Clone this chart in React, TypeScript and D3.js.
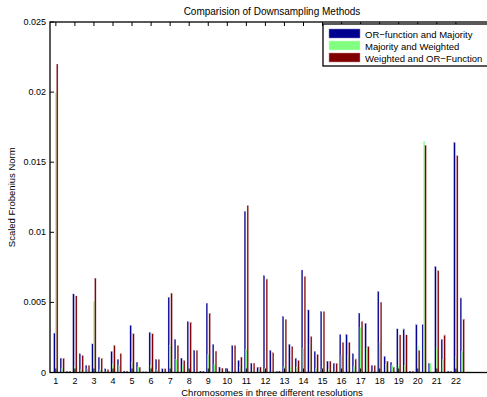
import * as d3 from "d3";

// three groups (resolutions) per chromosome, 66 groups in total
const chromosomes = d3.range(1, 23).map(String);

const orMajority = [
  0.0028, 0.00102, 0.0001, 0.0056, 0.00133, 0.0005, 0.00204, 0.00109, 0.00026,
  0.0015, 0.00093, 0.0001, 0.00335, 0.00073, 0.00005, 0.00287, 0.00093, 0.00026,
  0.00537, 0.00235, 0.00102, 0.00363, 0.00157, 0.0001, 0.00494, 0.002, 0.00038,
  0.0003, 0.00192, 0.00085, 0.01149, 0.00066, 0.00038, 0.0069, 0.00157, 0.0001,
  0.00399, 0.002, 0.00102, 0.00731, 0.00446, 0.0015, 0.00434, 0.0008, 0.00066,
  0.0027, 0.0027, 0.00133, 0.00423, 0.00351, 0.0005, 0.00577, 0.00114, 0.00073,
  0.00311, 0.00311, 0.0001, 0.0034, 0.0034, 0.00066, 0.00755, 0.00235, 0.0001,
  0.0164, 0.00532, 0,
];

const majorityWeighted = [
  0.02, 0.0003, 0.00005, 0.0004, 0.0002, 0.0003, 0.00506, 0.0002, 0.0001,
  0.0006, 0.0005, 0, 0.00073, 0.0004, 0, 0.0005, 0.0002, 0.0001,
  0.00192, 0.00093, 0.0005, 0.0001, 0, 0, 0.00126, 0.0006, 0.0001,
  0.00005, 0.0001, 0.0004, 0.00164, 0.0001, 0.0001, 0.0003, 0.0002, 0,
  0.0004, 0.0004, 0.0004, 0.00173, 0.002, 0.0003, 0.0002, 0.0002, 0.0001,
  0.00121, 0.00121, 0.00043, 0.00323, 0.00173, 0.0001, 0.00216, 0.0006, 0.0005,
  0.0005, 0.0005, 0, 0.00192, 0.0165, 0.00066, 0.00169, 0.00093, 0,
  0.00114, 0.0015, 0.0001,
];

const weightedOr = [
  0.022, 0.00102, 0.0001, 0.00546, 0.0012, 0.0005, 0.00672, 0.00102, 0.0002,
  0.00192, 0.00133, 0.0001, 0.00276, 0.00038, 0.00005, 0.00276, 0.00093, 0.00026,
  0.00565, 0.00192, 0.00085, 0.0036, 0.00157, 0.0001, 0.00423, 0.00152, 0.0003,
  0.0001, 0.00192, 0.00109, 0.0119, 0.00066, 0.00038, 0.00667, 0.0014, 0.0001,
  0.00378, 0.00185, 0.00085, 0.00684, 0.00256, 0.00128, 0.00434, 0.0008, 0.00066,
  0.00214, 0.00214, 0.00097, 0.00363, 0.00185, 0.0005, 0.00501, 0.0008, 0.00038,
  0.00268, 0.00268, 0.0001, 0.00157, 0.0162, 0, 0.00726, 0.00268, 0.0001,
  0.01546, 0.00382, 0,
];

const yTicks = [0, 0.005, 0.01, 0.015, 0.02, 0.025];

const series = [
  { name: "OR\u2212function and Majority", values: orMajority, color: "#00008f", edge: "#8080c8" },
  { name: "Majority and Weighted", values: majorityWeighted, color: "#80ff80", edge: "#c0ffc0" },
  { name: "Weighted and OR\u2212Function", values: weightedOr, color: "#800000", edge: "#c89090" },
];

const W = 487;
const H = 397;
const left = 50;
const right = 494; // axes box runs past the crop on the right
const top = 22;
const bottom = 372.5;
const font = "'Liberation Sans', Arial, Helvetica, sans-serif";

export default function App() {
  const x = d3.scaleLinear().domain([0, 70]).range([left - 0.5, right]);
  const y = d3.scaleLinear().domain([0, 0.025]).range([bottom, top]);

  // matlab grouped bar geometry
  const n = series.length;
  const groupWidth = Math.min(0.8, n / (n + 1.5));
  const barW = (groupWidth / n) * (x(1) - x(0));
  const offset = (i: number) => -groupWidth / 2 + ((2 * i + 1) * groupWidth) / (2 * n);

  const tickGroups = chromosomes.map((_, i) => i * 3 + 1);
  const midX = (left + right) / 2;

  return (
    <svg
      width={W}
      height={H}
      style={{ position: "absolute", left: 0, top: 0, background: "#fff" }}
      fontFamily={font}
    >
      <text x={midX} y={15} fontSize={10} textAnchor="middle">
        Comparision of Downsampling Methods
      </text>

      {/* bars */}
      {series.map((s, si) => (
        <g key={s.name}>
          {s.values.map((v, gi) => {
            const cx = x(gi + 1 + offset(si));
            const yt = y(v);
            return (
              <rect
                key={gi}
                x={cx - barW / 2}
                y={yt}
                width={barW}
                height={Math.max(0, bottom - yt)}
                fill={s.color}
                stroke={s.edge}
                strokeWidth={0.25}
              />
            );
          })}
        </g>
      ))}

      {/* axes box */}
      <rect x={left} y={top} width={right - left} height={bottom - top} fill="none" stroke="#000" strokeWidth={1.3} />

      {/* y ticks */}
      {yTicks.map((t) => (
        <g key={t}>
          <line x1={left} x2={left + 4} y1={y(t)} y2={y(t)} stroke="#000" />
          <text x={left - 4} y={y(t) + 3} fontSize={9} textAnchor="end">
            {String(t)}
          </text>
        </g>
      ))}

      {/* x ticks */}
      {tickGroups.map((g, i) => (
        <g key={g}>
          <line x1={x(g)} x2={x(g)} y1={bottom} y2={bottom - 4} stroke="#000" />
          <line x1={x(g)} x2={x(g)} y1={top} y2={top + 4} stroke="#000" />
          <text x={x(g)} y={bottom + 11.5} fontSize={9} textAnchor="middle">
            {chromosomes[i]}
          </text>
        </g>
      ))}

      <text x={midX} y={H - 1.5} fontSize={9.5} textAnchor="middle">
        Chromosomes in three different resolutions
      </text>
      <text
        transform={`translate(15,${(top + bottom) / 2}) rotate(-90)`}
        fontSize={9.5}
        textAnchor="middle"
      >
        Scaled Frobenius Norm
      </text>

      {/* legend */}
      <g transform="translate(323,24)">
        <rect x={0} y={0} width={170} height={42} fill="#fff" stroke="#000" strokeWidth={1.3} />
        {series.map((s, i) => (
          <g key={s.name} transform={`translate(6,${5 + i * 12})`}>
            <rect x={0} y={0} width={31} height={9} fill={s.color} stroke={s.edge} strokeWidth={0.5} />
            <text x={36} y={8.5} fontSize={9.5}>
              {s.name}
            </text>
          </g>
        ))}
      </g>
    </svg>
  );
}
